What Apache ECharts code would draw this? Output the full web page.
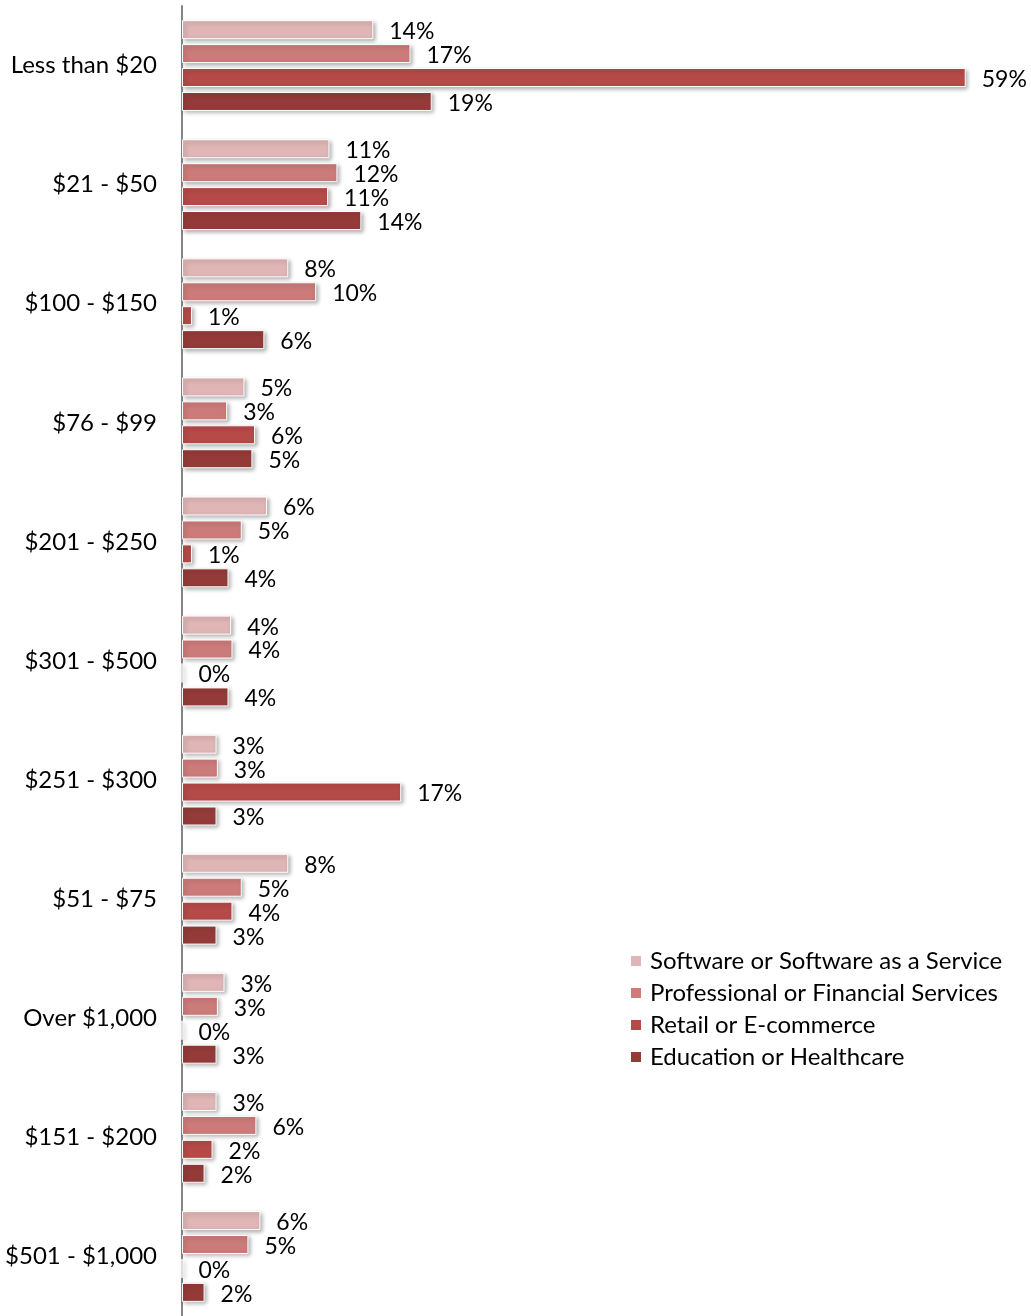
<!DOCTYPE html>
<html>
<head>
<meta charset="utf-8">
<script src="https://cdn.jsdelivr.net/npm/echarts@6/dist/echarts.min.js"></script>
<style>
  html, body { margin: 0; padding: 0; background: #fff; }
  #main { width: 1031px; height: 1316px; }
</style>
</head>
<body>
<div id="main"></div>
<script>
// price buckets, top to bottom
var categories = ['Less than $20', '$21 - $50', '$100 - $150', '$76 - $99', '$201 - $250',
    '$301 - $500', '$251 - $300', '$51 - $75', 'Over $1,000', '$151 - $200', '$501 - $1,000'];

var seriesNames = ['Software or Software as a Service', 'Professional or Financial Services',
    'Retail or E-commerce', 'Education or Healthcare'];

// percent values
var software = [14.4, 11.1, 8.0, 4.7, 6.4, 3.7, 2.6, 8.0, 3.2, 2.6, 5.9];
var professional = [17.2, 11.7, 10.1, 3.4, 4.5, 3.8, 2.7, 4.5, 2.7, 5.6, 5.0];
var retail = [59.0, 11.0, 0.75, 5.5, 0.75, 0, 16.5, 3.8, 0, 2.3, 0];
var education = [18.8, 13.5, 6.2, 5.3, 3.5, 3.5, 2.6, 2.6, 2.6, 1.7, 1.7];

var colors = ['#dfb5b5', '#cb7b7a', '#b54a48', '#943b3a'];
var font = 'Lato, "Open Sans", sans-serif';

var chart = echarts.init(document.getElementById('main'));

function makeSeries(name, data, color) {
    return {
        name: name,
        type: 'bar',
        data: data,
        barWidth: 19,
        barGap: '26%',
        itemStyle: {
            color: color,
            borderColor: '#fff',
            borderWidth: 1,
            shadowColor: 'rgba(0,0,0,0.3)',
            shadowBlur: 4,
            shadowOffsetX: 2,
            shadowOffsetY: 2
        },
        label: {
            show: true,
            position: 'right',
            distance: 16,
            offset: [0, 2],
            color: '#000',
            fontFamily: font,
            fontSize: 23,
            formatter: function (p) { return Math.round(p.value) + '%'; }
        }
    };
}

var option = {
    animation: false,
    color: colors,
    legend: {
        orient: 'vertical',
        left: 624,
        top: 944,
        itemWidth: 12,
        itemHeight: 12,
        itemGap: 8,
        icon: 'rect',
        textStyle: { color: '#000', fontFamily: font, fontSize: 24, padding: [0, 0, 0, 3] },
        data: seriesNames
    },
    grid: {
        left: 182,
        right: 52,
        top: 6,
        bottom: -5,
        containLabel: false
    },
    xAxis: {
        type: 'value',
        min: 0,
        max: 60,
        show: false
    },
    yAxis: {
        type: 'category',
        inverse: true,
        data: categories,
        axisLine: { show: true, lineStyle: { color: '#868686', width: 2 } },
        axisTick: { show: false },
        axisLabel: { color: '#000', fontFamily: font, fontSize: 24, margin: 25 }
    },
    series: [
        makeSeries(seriesNames[0], software, colors[0]),
        makeSeries(seriesNames[1], professional, colors[1]),
        makeSeries(seriesNames[2], retail, colors[2]),
        makeSeries(seriesNames[3], education, colors[3])
    ]
};

chart.setOption(option);
</script>
</body>
</html>
